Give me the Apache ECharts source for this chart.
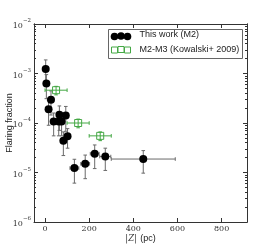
<!DOCTYPE html>
<html><head><meta charset="utf-8">
<script src="https://cdn.jsdelivr.net/npm/echarts@6/dist/echarts.min.js"></script>
<style>html,body{margin:0;padding:0;background:#fff}#c{width:274px;height:247px}</style>
</head><body><div id="c"></div>
<script>
// Black points: This work (M2)
var blackX    = [3, 6, 27, 16, 39, 62, 75, 65, 94, 83, 102, 133, 182, 225, 273, 445];
var blackY    = [1.24e-3, 6.3e-4, 2.95e-4, 1.9e-4, 1.07e-4, 1.07e-4, 1.07e-4, 1.46e-4, 1.42e-4, 4.4e-5, 5.4e-5, 1.23e-5, 1.5e-5, 2.4e-5, 2.1e-5, 1.87e-5];
var blackXErr = [3, 3, 5, 5, 8, 8, 8, 8, 8, 10, 10, 20, 20, 20, 25, 145];
var blackYErr = [6.4e-4, 3.2e-4, 1.5e-4, 1.0e-4, 5.2e-5, 5.2e-5, 5.2e-5, 7.5e-5, 7.4e-5, 2.2e-5, 2.3e-5, 6.2e-6, 7.5e-6, 1.2e-5, 1.0e-5, 9e-6];
// Green squares: M2-M3 (Kowalski+ 2009)
var greenX    = [50, 150, 250];
var greenY    = [4.6e-4, 1.0e-4, 5.5e-5];
var greenXErr = [50, 50, 50];
var greenYErr = [9e-5, 2e-5, 1.1e-5];
// Ticks
var xTicks = [0, 200, 400, 600, 800];
var yMajor = [1e-6, 1e-5, 1e-4, 1e-3, 1e-2];
var seriesNames = ['This work (M2)', 'M2-M3 (Kowalski+ 2009)'];

var yMinor = [];
for (var e = -6; e < -2; e++) for (var m = 2; m <= 9; m++) yMinor.push(m * Math.pow(10, e));

function rows(xs, ys, xe, ye) { return xs.map(function (x, i) { return [x, ys[i], xe[i], ye[i]]; }); }
var blackData = rows(blackX, blackY, blackXErr, blackYErr);
var greenData = rows(greenX, greenY, greenXErr, greenYErr);

function errRender(color) {
  return function (params, api) {
    var x = api.value(0), y = api.value(1), dx = api.value(2), dy = api.value(3);
    var c = api.coord([x, y]);
    var l = api.coord([x - dx, y]), r = api.coord([x + dx, y]);
    var t = api.coord([x, y + dy]), b = api.coord([x, Math.max(y - dy, 1e-9)]);
    var st = { stroke: color, lineWidth: 1 };
    var cap = 1.8;
    return { type: 'group', children: [
      { type: 'line', shape: { x1: l[0], y1: c[1], x2: r[0], y2: c[1] }, style: st },
      { type: 'line', shape: { x1: c[0], y1: t[1], x2: c[0], y2: b[1] }, style: st },
      { type: 'line', shape: { x1: l[0], y1: c[1] - cap, x2: l[0], y2: c[1] + cap }, style: st },
      { type: 'line', shape: { x1: r[0], y1: c[1] - cap, x2: r[0], y2: c[1] + cap }, style: st },
      { type: 'line', shape: { x1: c[0] - cap, y1: t[1], x2: c[0] + cap, y2: t[1] }, style: st },
      { type: 'line', shape: { x1: c[0] - cap, y1: b[1], x2: c[0] + cap, y2: b[1] }, style: st }
    ]};
  };
}

var GREEN = '#45a845', GRAY = '#6a6a6a', AX = '#333';
var serif = '"DejaVu Serif", "Liberation Serif", serif';
var sans = '"Liberation Sans", Arial, sans-serif';

function yAx(pos, major, labels) {
  return {
    type: 'log', logBase: 10, min: 1e-6, max: 1e-2, position: pos,
    axisLine: { show: true, onZero: false, lineStyle: { color: AX, width: 1 } },
    axisTick: { show: true, inside: true, length: major ? 4 : 2, customValues: major ? yMajor : yMinor, lineStyle: { color: AX } },
    axisLabel: labels ? {
      show: true, customValues: yMajor, margin: 3,
      formatter: function (v) { var ex = Math.round(Math.log10(v)); return '{b|10}{s|\u2212' + (-ex) + '}'; },
      rich: { b: { fontFamily: serif, fontSize: 8, color: '#333', lineHeight: 12, verticalAlign: 'bottom' },
              s: { fontFamily: serif, fontSize: 5.5, color: '#333', lineHeight: 12, verticalAlign: 'top', padding: [0, 0, 5, 0] } }
    } : { show: false },
    splitLine: { show: false },
    name: labels ? 'Flaring fraction' : '', nameLocation: 'middle', nameGap: 20, nameMoveOverlap: false,
    nameTextStyle: { fontFamily: sans, fontSize: 9, color: '#222' }
  };
}

var chart = echarts.init(document.getElementById('c'));
chart.setOption({
  animation: false,
  grid: { left: 34, right: 27, top: 24, bottom: 25, outerBoundsMode: 'none' },
  xAxis: [
    { type: 'value', min: -50, max: 915, position: 'bottom',
      axisLine: { show: true, onZero: false, lineStyle: { color: AX, width: 1 } },
      axisTick: { show: true, inside: true, length: 4, customValues: xTicks, lineStyle: { color: AX } },
      axisLabel: { show: true, customValues: xTicks, margin: 3, fontFamily: serif, fontSize: 8, color: '#333' },
      splitLine: { show: false },
      name: '{m||Z|} {n|(pc)}', nameLocation: 'middle', nameGap: 11, nameMoveOverlap: false,
      nameTextStyle: { rich: { m: { fontFamily: serif, fontStyle: 'italic', fontSize: 8.5, color: '#333' }, n: { fontFamily: sans, fontSize: 9, color: '#222' } } } },
    { type: 'value', min: -50, max: 915, position: 'top',
      axisLine: { show: true, onZero: false, lineStyle: { color: AX, width: 1 } },
      axisTick: { show: true, inside: true, length: 4, customValues: xTicks, lineStyle: { color: AX } },
      axisLabel: { show: false }, splitLine: { show: false } }
  ],
  yAxis: [yAx('left', true, true), yAx('left', false, false), yAx('right', true, false), yAx('right', false, false)],
  series: [
    { type: 'custom', name: 'errB', renderItem: errRender(GRAY), data: blackData, z: 2, silent: true },
    { type: 'scatter', name: seriesNames[0], data: blackData, symbol: 'circle', symbolSize: 8,
      itemStyle: { color: '#000', opacity: 1 }, z: 3 },
    { type: 'custom', name: 'errG', renderItem: errRender(GREEN), data: greenData, z: 2, silent: true },
    { type: 'scatter', name: seriesNames[1], data: greenData, symbol: 'rect', symbolSize: 7,
      itemStyle: { color: 'rgba(0,0,0,0)', borderColor: GREEN, borderWidth: 1, opacity: 1 }, z: 3 }
  ],
  graphic: [
    { type: 'rect', left: 108, top: 29, shape: { width: 134, height: 29 }, style: { fill: '#fff', stroke: '#666', lineWidth: 1 }, z: 10 },
    { type: 'circle', shape: { cx: 114.5, cy: 36.5, r: 3.8 }, style: { fill: '#000' }, z: 11 },
    { type: 'circle', shape: { cx: 121, cy: 36, r: 3.8 }, style: { fill: '#000' }, z: 11 },
    { type: 'circle', shape: { cx: 127.5, cy: 36.5, r: 3.8 }, style: { fill: '#000' }, z: 11 },
    { type: 'rect', shape: { x: 111.5, y: 47, width: 6, height: 6 }, style: { fill: 'none', stroke: GREEN, lineWidth: 1 }, z: 11 },
    { type: 'rect', shape: { x: 118, y: 46.5, width: 6, height: 6 }, style: { fill: 'none', stroke: GREEN, lineWidth: 1 }, z: 11 },
    { type: 'rect', shape: { x: 124.5, y: 47, width: 6, height: 6 }, style: { fill: 'none', stroke: GREEN, lineWidth: 1 }, z: 11 },
    { type: 'text', left: 139.5, top: 30, style: { text: seriesNames[0], fontFamily: sans, fontSize: 9, fill: '#222' }, z: 11 },
    { type: 'text', left: 139.5, top: 45.5, style: { text: seriesNames[1], fontFamily: sans, fontSize: 9, fill: '#222' }, z: 11 }
  ]
});
</script></body></html>
